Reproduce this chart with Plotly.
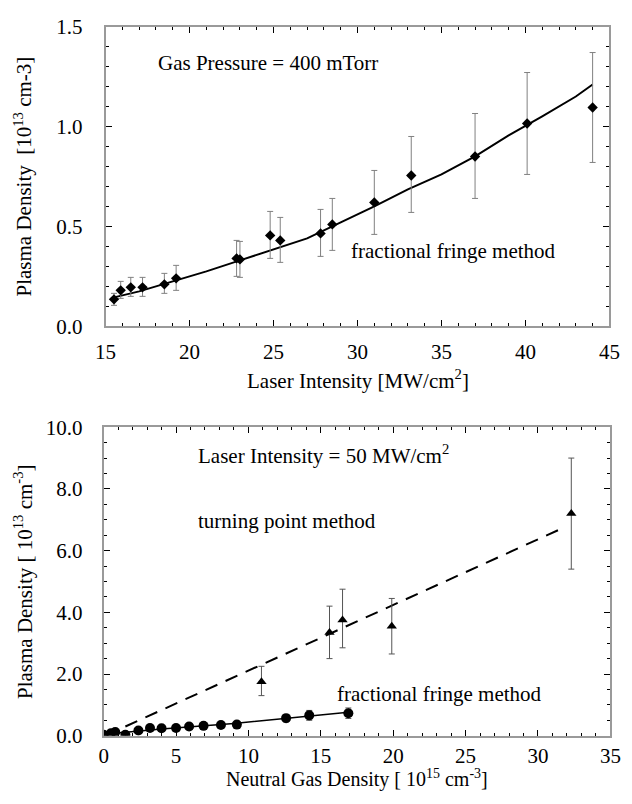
import plotly.graph_objects as go

# ---------------- Top panel data ----------------
top_x = [15.5, 15.9, 16.5, 17.2, 18.5, 19.2, 22.8, 23.0, 24.8, 25.4, 27.8, 28.5, 31.0, 33.2, 37.0, 40.1, 44.0]
top_y = [0.135, 0.18, 0.195, 0.195, 0.21, 0.24, 0.34, 0.335, 0.455, 0.43, 0.465, 0.51, 0.62, 0.755, 0.85, 1.015, 1.095]
top_err_plus = [0.03, 0.045, 0.05, 0.05, 0.055, 0.065, 0.09, 0.09, 0.12, 0.115, 0.12, 0.13, 0.16, 0.195, 0.215, 0.255, 0.275]
top_err_minus = [0.03, 0.04, 0.045, 0.045, 0.045, 0.06, 0.09, 0.09, 0.115, 0.11, 0.115, 0.13, 0.16, 0.185, 0.21, 0.255, 0.275]
top_fit_x = [15.5, 17, 19, 21, 23, 25, 27, 29, 31, 33, 35, 37, 39, 41, 43, 44]
top_fit_y = [0.145, 0.175, 0.225, 0.275, 0.33, 0.385, 0.44, 0.52, 0.6, 0.685, 0.76, 0.85, 0.955, 1.05, 1.15, 1.21]

# ---------------- Bottom panel data ----------------
tp_x = [10.9, 15.6, 16.5, 19.9, 32.3]
tp_y = [1.75, 3.35, 3.75, 3.55, 7.2]
tp_err_plus = [0.5, 0.85, 1.0, 0.9, 1.8]
tp_err_minus = [0.45, 0.85, 0.9, 0.9, 1.8]
tp_fit_x = [1.5, 31.8]
tp_fit_y = [0.3, 6.75]

ff_x = [0.0, 0.5, 0.8, 1.5, 2.4, 3.2, 4.0, 5.0, 5.9, 6.9, 8.1, 9.2, 12.6, 14.2, 16.9]
ff_y = [0.03, 0.08, 0.12, 0.03, 0.17, 0.25, 0.24, 0.25, 0.3, 0.32, 0.35, 0.36, 0.57, 0.66, 0.73]
ff_err = [0.03, 0.03, 0.03, 0.03, 0.04, 0.04, 0.04, 0.05, 0.05, 0.05, 0.06, 0.06, 0.12, 0.16, 0.17]
ff_fit_x = [0.0, 4.0, 9.0, 13.0, 16.9]
ff_fit_y = [0.05, 0.22, 0.4, 0.57, 0.76]

FONT = "Liberation Serif, Times New Roman, serif"
FS = 21
ERR_COLOR = "#808080"

fig = go.Figure()

# top panel
fig.add_trace(go.Scatter(x=top_fit_x, y=top_fit_y, mode="lines",
                         line=dict(color="black", width=2), xaxis="x", yaxis="y",
                         showlegend=False, hoverinfo="skip"))
fig.add_trace(go.Scatter(x=top_x, y=top_y, mode="markers",
                         marker=dict(symbol="diamond", size=8, color="black"),
                         error_y=dict(type="data", array=top_err_plus, arrayminus=top_err_minus,
                                      color=ERR_COLOR, thickness=1, width=3),
                         xaxis="x", yaxis="y", showlegend=False))

# bottom panel
fig.add_trace(go.Scatter(x=tp_fit_x, y=tp_fit_y, mode="lines",
                         line=dict(color="black", width=2, dash="13px,9px"),
                         xaxis="x2", yaxis="y2", showlegend=False, hoverinfo="skip"))
fig.add_trace(go.Scatter(x=ff_fit_x, y=ff_fit_y, mode="lines",
                         line=dict(color="black", width=1.5),
                         xaxis="x2", yaxis="y2", showlegend=False, hoverinfo="skip"))
fig.add_trace(go.Scatter(x=tp_x, y=tp_y, mode="markers",
                         marker=dict(symbol="triangle-up", size=9, color="black"),
                         error_y=dict(type="data", array=tp_err_plus, arrayminus=tp_err_minus,
                                      color="#555555", thickness=1, width=3),
                         xaxis="x2", yaxis="y2", showlegend=False))
fig.add_trace(go.Scatter(x=ff_x, y=ff_y, mode="markers",
                         marker=dict(symbol="circle", size=10, color="black"),
                         error_y=dict(type="data", array=ff_err,
                                      color="#555555", thickness=1, width=3),
                         xaxis="x2", yaxis="y2", showlegend=False))

W, H = 632, 804


def dom_x(a, b):
    return [a / W, b / W]


def dom_y(top, bottom):
    return [1 - bottom / H, 1 - top / H]


axis_common = dict(showline=True, linecolor="#9a9a9a", linewidth=2, mirror="ticks",
                   ticks="inside", tickcolor="black", tickwidth=1, ticklen=6,
                   showgrid=False, zeroline=False,
                   tickfont=dict(family=FONT, size=FS, color="black"))

fig.update_layout(
    width=W, height=H,
    margin=dict(l=0, r=0, t=0, b=0),
    paper_bgcolor="white", plot_bgcolor="white",
    font=dict(family=FONT, size=FS, color="black"),
    xaxis=dict(domain=dom_x(98, 620), range=[15, 45], dtick=5, tick0=15,
               minor=dict(dtick=1, ticks="inside", ticklen=3, tickcolor="black"),
               anchor="y", ticklabelstandoff=5, **axis_common),
    yaxis=dict(domain=dom_y(15, 324), range=[0, 1.5], dtick=0.5, tickformat=".1f",
               minor=dict(dtick=0.1, ticks="inside", ticklen=3, tickcolor="black"),
               anchor="x", ticklabelstandoff=17, **axis_common),
    xaxis2=dict(domain=dom_x(96, 621), range=[0, 35], dtick=5, tick0=0,
                minor=dict(dtick=1, ticks="inside", ticklen=3, tickcolor="black"),
                anchor="y2", ticklabelstandoff=0, **axis_common),
    yaxis2=dict(domain=dom_y(428, 746), range=[0, 10], dtick=2, tickformat=".1f",
                minor=dict(dtick=0.5, ticks="inside", ticklen=3, tickcolor="black"),
                anchor="x2", ticklabelstandoff=15, **axis_common),
    annotations=[
        # axis titles
        dict(x=(98 + 620) / 2 / W, y=1 - 379 / H, xref="paper", yref="paper",
             text="Laser Intensity [MW/cm<sup>2</sup>]", showarrow=False,
             xanchor="center", yanchor="middle", font=dict(family=FONT, size=FS)),
        dict(x=13 / W, y=1 - 170 / H, xref="paper", yref="paper",
             text="Plasma Density  [10<sup>13</sup> cm-3]", showarrow=False, textangle=-90,
             xanchor="center", yanchor="middle", font=dict(family=FONT, size=FS)),
        dict(x=(96 + 621) / 2 / W, y=0, xref="paper", yref="paper",
             text="Neutral Gas Density [ 10<sup>15</sup> cm<sup>-3</sup>]", showarrow=False,
             xanchor="center", yanchor="bottom", borderpad=0,
             font=dict(family=FONT, size=20)),
        dict(x=13 / W, y=1 - 587 / H, xref="paper", yref="paper",
             text="Plasma Density [ 10<sup>13</sup> cm<sup>-3</sup>]", showarrow=False, textangle=-90,
             xanchor="center", yanchor="middle", font=dict(family=FONT, size=FS)),
        # in-plot labels
        dict(x=18.0, y=1.32, xref="x", yref="y", text="Gas Pressure = 400 mTorr",
             showarrow=False, xanchor="left", yanchor="middle",
             font=dict(family=FONT, size=FS)),
        dict(x=29.5, y=0.375, xref="x", yref="y", text="fractional fringe method",
             showarrow=False, xanchor="left", yanchor="middle",
             font=dict(family=FONT, size=FS)),
        dict(x=6.4, y=9.1, xref="x2", yref="y2", text="Laser Intensity = 50 MW/cm<sup>2</sup>",
             showarrow=False, xanchor="left", yanchor="middle",
             font=dict(family=FONT, size=FS)),
        dict(x=6.4, y=6.95, xref="x2", yref="y2", text="turning point method",
             showarrow=False, xanchor="left", yanchor="middle",
             font=dict(family=FONT, size=FS)),
        dict(x=16.0, y=1.35, xref="x2", yref="y2", text="fractional fringe method",
             showarrow=False, xanchor="left", yanchor="middle",
             font=dict(family=FONT, size=FS)),
    ],
)

fig.write_html("out.html", config={"displayModeBar": False},
               post_script="document.body.style.margin='0px';")
